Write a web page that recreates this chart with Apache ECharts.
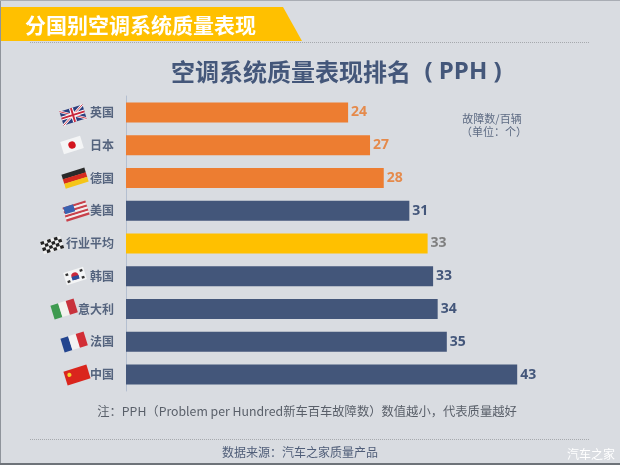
<!DOCTYPE html>
<html><head><meta charset="utf-8">
<style>html,body{margin:0;padding:0;background:#d9dce1}#c{width:620px;height:465px}</style>
<script src="https://cdn.jsdelivr.net/npm/echarts@6/dist/echarts.min.js"></script>
</head><body><div id="c"></div>
<script>
const categories=['英国','日本','德国','美国','行业平均','韩国','意大利','法国','中国'];
const barValues=[24.3,26.7,28.2,31.0,33.0,33.6,34.1,35.1,42.8];
const barLabels=['24','27','28','31','33','33','34','35','43'];
const NAVY='#43567A';
const barColors=['#ED7D31','#ED7D31','#ED7D31',NAVY,'#FFC000',NAVY,NAVY,NAVY,NAVY];
const labelColors=['#E58A4B','#E58A4B','#E58A4B',NAVY,'#7F7F7F',NAVY,NAVY,NAVY,NAVY];
const CJK='"Noto Sans CJK SC","Noto Sans",sans-serif';
const LAT='"Open Sans","Noto Sans",sans-serif';

function stripes(dir,cols){
  const out=[],n=cols.length;
  cols.forEach((c,i)=>{
    const s=dir==='h'
      ?{x:-15,y:-9+18*i/n,width:30,height:18/n+0.3}
      :{x:-15+30*i/n,y:-9,width:30/n+0.3,height:18};
    out.push({type:'rect',shape:s,style:{fill:c}});
  });
  return out;
}
const flagParts={
 uk:[{type:'rect',shape:{x:-15,y:-9,width:30,height:18},style:{fill:'#2B3F7E'}},
  {type:'line',shape:{x1:-15,y1:-9,x2:15,y2:9},style:{stroke:'#fff',lineWidth:3}},
  {type:'line',shape:{x1:-15,y1:9,x2:15,y2:-9},style:{stroke:'#fff',lineWidth:3}},
  {type:'line',shape:{x1:-15,y1:-9,x2:15,y2:9},style:{stroke:'#C8283C',lineWidth:1}},
  {type:'line',shape:{x1:-15,y1:9,x2:15,y2:-9},style:{stroke:'#C8283C',lineWidth:1}},
  {type:'rect',shape:{x:-15,y:-2.5,width:30,height:5},style:{fill:'#fff'}},
  {type:'rect',shape:{x:-2.5,y:-9,width:5,height:18},style:{fill:'#fff'}},
  {type:'rect',shape:{x:-15,y:-1.2,width:30,height:2.4},style:{fill:'#C8283C'}},
  {type:'rect',shape:{x:-1.2,y:-9,width:2.4,height:18},style:{fill:'#C8283C'}}],
 jp:[{type:'rect',shape:{x:-13,y:-8,width:26,height:16},style:{fill:'#F4F5F6'}},
  {type:'circle',shape:{cx:0,cy:0,r:4.6},style:{fill:'#D2141E'}}],
 de:stripes('h',['#2A2A2A','#D62B1F','#F5C518']),
 us:[...stripes('h',['#C8414B','#F2EDED','#C8414B','#F2EDED','#C8414B','#F2EDED','#C8414B']),
  {type:'rect',shape:{x:-14,y:-9,width:13,height:9},style:{fill:'#3A62B0'}}],
 check:[{type:'rect',shape:{x:-13,y:-8,width:26,height:16},style:{fill:'#F0F0F0'}},
  ...[0,1,2,3,4,5].flatMap(i=>[0,1,2,3].filter(j=>(i+j)%2===0).map(j=>({type:'rect',shape:{x:-13+i*4.4,y:-8+j*4,width:4.4,height:4},style:{fill:'#222'}})))],
 kr:[{type:'rect',shape:{x:-13,y:-8,width:26,height:16},style:{fill:'#F4F5F6'}},
  {type:'circle',shape:{cx:0,cy:0,r:4.6},style:{fill:'#C9283C'}},
  {type:'rect',shape:{x:-4.6,y:0,width:9.2,height:4.6},style:{fill:'#2A4E9C'}},
  {type:'rect',shape:{x:-11,y:-6,width:3.5,height:3},style:{fill:'#333'}},
  {type:'rect',shape:{x:7.5,y:-6,width:3.5,height:3},style:{fill:'#333'}},
  {type:'rect',shape:{x:-11,y:3,width:3.5,height:3},style:{fill:'#333'}},
  {type:'rect',shape:{x:7.5,y:3,width:3.5,height:3},style:{fill:'#333'}}],
 it:stripes('v',['#3E9A50','#F2F2EE','#C8323C']),
 fr:stripes('v',['#23458F','#F2F2F2','#D22E36']),
 cn:[{type:'rect',shape:{x:-15,y:-9,width:30,height:18},style:{fill:'#DA251D'}},
  {type:'circle',shape:{cx:-9,cy:-3,r:2.6},style:{fill:'#F6D32D'}}]
};
const flagPlaces=[['uk',73,115],['jp',72,145],['de',75,178],['us',76,211],['check',52,245],['kr',75,276],['it',64,309],['fr',74,342],['cn',77,375]];
const flagGraphics=flagPlaces.map(([k,x,y])=>({type:'group',x,y,rotation:0.3,scaleX:0.8,scaleY:0.8,z:5,children:flagParts[k]}));

const chart=echarts.init(document.getElementById('c'),null,{renderer:'canvas'});
chart.setOption({
 backgroundColor:'#d9dce1',animation:false,
 grid:{left:126,top:96,width:457,height:295,containLabel:false},
 xAxis:{type:'value',min:0,max:50,show:false},
 yAxis:{type:'category',inverse:true,data:categories,
  axisLine:{lineStyle:{color:'#b4bfd0',width:1}},
  axisTick:{length:4,lineStyle:{color:'#b4bfd0'}},
  axisLabel:{margin:12,color:'#55647e',fontFamily:CJK,fontSize:12,fontWeight:'bold'}},
 series:[{type:'bar',barWidth:20,
  data:barValues.map((v,i)=>({value:v,itemStyle:{color:barColors[i]},
   label:{show:true,position:'right',distance:3,formatter:barLabels[i],color:labelColors[i],fontFamily:LAT,fontSize:14,fontWeight:'bold'}}))
 }],
 graphic:[
  {type:'line',shape:{x1:0.5,y1:0,x2:0.5,y2:465},style:{stroke:'#8f949b',lineWidth:1}},
  {type:'line',shape:{x1:0,y1:0.5,x2:620,y2:0.5},style:{stroke:'#a9adb4',lineWidth:1}},
  {type:'line',shape:{x1:0,y1:464,x2:620,y2:464},style:{stroke:'#6e7379',lineWidth:2}},
  {type:'polygon',shape:{points:[[1,7],[283,7],[302,41],[1,41]]},style:{fill:'#FFC000'}},
  {type:'line',shape:{x1:30,y1:42.5,x2:590,y2:42.5},style:{stroke:'#a6a9ad',lineWidth:1,lineDash:[1,1]}},
  {type:'line',shape:{x1:30,y1:439.5,x2:590,y2:439.5},style:{stroke:'#a6a9ad',lineWidth:1,lineDash:[1,1]}},
  {type:'text',x:25,y:25,style:{text:'分国别空调系统质量表现',fill:'#fff',font:'bold 21px '+CJK,textVerticalAlign:'middle'}},
  {type:'text',x:171,y:72,style:{text:'空调系统质量表现排名',fill:'#44577A',font:'bold 24px '+CJK,textVerticalAlign:'middle'}},
  {type:'text',x:463,y:72,style:{text:'( PPH )',fill:'#44577A',font:'bold 24px '+LAT,textAlign:'center',textVerticalAlign:'middle'}},
  {type:'text',x:492,y:119,style:{text:'故障数/百辆',fill:'#5f6c84',font:'11px '+CJK,textAlign:'center',textVerticalAlign:'middle'}},
  {type:'text',x:494,y:132,style:{text:'（单位：个）',fill:'#5f6c84',font:'11px '+CJK,textAlign:'center',textVerticalAlign:'middle'}},
  {type:'text',x:307,y:411,style:{text:'注：PPH（Problem per Hundred新车百车故障数）数值越小，代表质量越好',fill:'#595f69',font:'12.3px '+CJK,textAlign:'center',textVerticalAlign:'middle'}},
  {type:'text',x:300,y:452,style:{text:'数据来源：汽车之家质量产品',fill:'#4f5d78',font:'12px '+CJK,textAlign:'center',textVerticalAlign:'middle'}},
  {type:'text',x:591,y:454,style:{text:'汽车之家',fill:'#ffffff',font:'12px '+CJK,textAlign:'center',textVerticalAlign:'middle'}},
  ...flagGraphics
 ]
});
</script></body></html>
